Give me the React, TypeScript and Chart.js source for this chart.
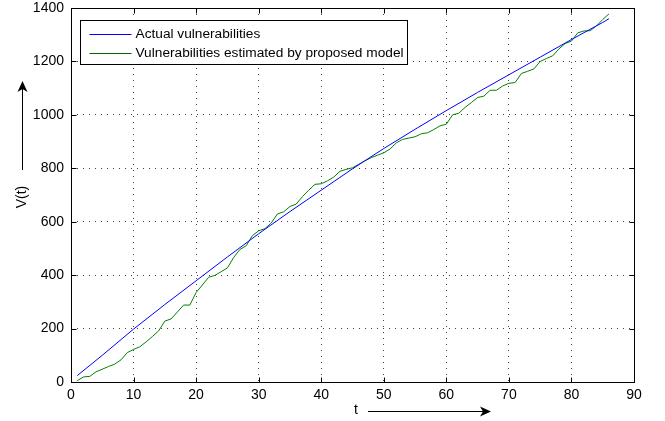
import React, { useEffect, useRef } from 'react';
import { Chart, registerables } from 'chart.js';

Chart.register(...registerables);

// ---- data ----
const tGreen = [
  1, 2, 3, 4, 5, 6, 7, 8, 9, 10, 11, 12, 13, 14, 15, 16, 17, 18, 19, 20,
  21, 22, 23, 24, 25, 26, 27, 28, 29, 30, 31, 32, 33, 34, 35, 36, 37, 38, 39, 40,
  41, 42, 43, 44, 45, 46, 47, 48, 49, 50, 51, 52, 53, 54, 55, 56, 57, 58, 59, 60,
  61, 62, 63, 64, 65, 66, 67, 68, 69, 70, 71, 72, 73, 74, 75, 76, 77, 78, 79, 80,
  81, 82, 83, 84, 85, 86,
];
const greenValues = [
  5, 19, 21, 38, 48, 58, 67, 83, 110, 122, 132, 150, 170, 191, 228, 236, 262, 288, 288, 335,
  363, 392, 399, 413, 427, 466, 496, 510, 548, 566, 574, 595, 629, 637, 657, 666, 694, 718, 740, 742,
  753, 767, 789, 796, 802, 815, 828, 840, 849, 858, 872, 895, 908, 913, 918, 929, 933, 945, 959, 965,
  1000, 1006, 1028, 1046, 1065, 1070, 1092, 1092, 1108, 1118, 1121, 1155, 1163, 1172, 1200, 1211, 1221, 1247, 1267, 1276,
  1307, 1314, 1315, 1333, 1357, 1378,
];
const tBlue = [1, 5, 10, 15, 20, 25, 30, 35, 40, 45, 50, 55, 60, 65, 70, 75, 80, 85, 86];
const blueValues = [24, 100, 198, 290, 379, 468, 555, 638, 718, 798, 874, 946, 1016, 1084, 1150, 1216, 1282, 1346, 1360];
const xTicks = [0, 10, 20, 30, 40, 50, 60, 70, 80, 90];
const yTicks = [0, 200, 400, 600, 800, 1000, 1200, 1400];
const seriesNames = ['Actual vulnerabilities', 'Vulnerabilities estimated by proposed model'];
const xTitle = 't';
const yTitle = 'V(t)';

const FONT = '"Liberation Sans", Arial, Helvetica, sans-serif';
const FS = 14;
const LEGEND_FS = 13.7;
const BLUE = '#0000ff';
const GREEN = '#008000';

function arrow(ctx: CanvasRenderingContext2D, x1: number, y1: number, x2: number, y2: number) {
  const ang = Math.atan2(y2 - y1, x2 - x1);
  const hl = 11;
  const hw = 5;
  ctx.save();
  ctx.strokeStyle = '#000';
  ctx.fillStyle = '#000';
  ctx.lineWidth = 1;
  ctx.beginPath();
  ctx.moveTo(x1, y1);
  ctx.lineTo(x2 - Math.cos(ang) * 4, y2 - Math.sin(ang) * 4);
  ctx.stroke();
  const bx = x2 - Math.cos(ang) * hl;
  const by = y2 - Math.sin(ang) * hl;
  const nx = -Math.sin(ang);
  const ny = Math.cos(ang);
  const mx = x2 - Math.cos(ang) * (hl - 3);
  const my = y2 - Math.sin(ang) * (hl - 3);
  ctx.beginPath();
  ctx.moveTo(x2, y2);
  ctx.lineTo(bx + nx * hw, by + ny * hw);
  ctx.lineTo(mx, my);
  ctx.lineTo(bx - nx * hw, by - ny * hw);
  ctx.closePath();
  ctx.fill();
  ctx.restore();
}

const decorPlugin = {
  id: 'decor',
  afterDraw(chart: any) {
    const ctx: CanvasRenderingContext2D = chart.ctx;
    const { left, right, top, bottom } = chart.chartArea;
    const xs = chart.scales.x;
    const ys = chart.scales.y;
    const L = Math.round(left) + 0.5;
    const R = Math.round(right) + 0.5;
    const T = Math.round(top) + 0.5;
    const B = Math.round(bottom) + 0.5;
    ctx.save();
    ctx.strokeStyle = '#000';
    ctx.lineWidth = 1;
    // inward ticks
    const tl = 5;
    ctx.beginPath();
    xTicks.forEach((v) => {
      const px = Math.round(xs.getPixelForValue(v)) + 0.5;
      ctx.moveTo(px, B);
      ctx.lineTo(px, B - tl);
      ctx.moveTo(px, T);
      ctx.lineTo(px, T + tl);
    });
    yTicks.forEach((v) => {
      const py = Math.round(ys.getPixelForValue(v)) + 0.5;
      ctx.moveTo(L, py);
      ctx.lineTo(L + tl, py);
      ctx.moveTo(R, py);
      ctx.lineTo(R - tl, py);
    });
    ctx.stroke();
    // frame
    ctx.strokeRect(L, T, R - L, B - T);

    // legend
    ctx.font = `${LEGEND_FS}px ${FONT}`;
    const lx = Math.round(L + 8) + 0.5;
    const ly = Math.round(T + 11) + 0.5;
    const textX = lx + 55;
    const w = Math.max(...seriesNames.map((s) => ctx.measureText(s).width));
    const bw = Math.round(textX - lx + w + 4);
    const bh = 44;
    ctx.fillStyle = '#fff';
    ctx.fillRect(lx, ly, bw, bh);
    ctx.strokeRect(lx, ly, bw, bh);
    const rows = [ly + 13, ly + 32.5];
    const cols = [BLUE, '#006400'];
    seriesNames.forEach((s, i) => {
      ctx.strokeStyle = cols[i];
      ctx.beginPath();
      ctx.moveTo(lx + 9, Math.round(rows[i]) + 0.5);
      ctx.lineTo(lx + 51, Math.round(rows[i]) + 0.5);
      ctx.stroke();
      ctx.fillStyle = '#000';
      ctx.textBaseline = 'middle';
      ctx.textAlign = 'left';
      ctx.fillText(s, textX, rows[i] + 0.5);
    });

    // axis titles
    ctx.font = `${FS}px ${FONT}`;
    ctx.fillStyle = '#000';
    ctx.textAlign = 'center';
    ctx.textBaseline = 'middle';
    ctx.fillText(xTitle, 356, 410);
    arrow(ctx, 368, 411.5, 491, 411.5);
    ctx.save();
    ctx.translate(22, 197);
    ctx.rotate(-Math.PI / 2);
    ctx.fillText(yTitle, 0, 0);
    ctx.restore();
    arrow(ctx, 22.5, 170, 22.5, 81);
    ctx.restore();
  },
};

export default function App() {
  const ref = useRef<HTMLCanvasElement | null>(null);
  useEffect(() => {
    if (!ref.current) return;
    const chart = new Chart(ref.current, {
      type: 'line',
      data: {
        datasets: [
          {
            label: seriesNames[0],
            data: tBlue.map((t, i) => ({ x: t, y: blueValues[i] })),
            borderColor: BLUE,
            borderWidth: 1,
            pointRadius: 0,
            tension: 0,
          },
          {
            label: seriesNames[1],
            data: tGreen.map((t, i) => ({ x: t, y: greenValues[i] })),
            borderColor: GREEN,
            borderWidth: 1,
            pointRadius: 0,
            tension: 0,
          },
        ],
      },
      options: {
        animation: false,
        responsive: false,
        maintainAspectRatio: false,
        layout: { padding: { left: 0, right: 31, top: 8, bottom: 0 } },
        plugins: { legend: { display: false }, tooltip: { enabled: false } },
        scales: {
          x: {
            type: 'linear',
            min: 0,
            max: 90,
            afterBuildTicks: (s: any) => {
              s.ticks = xTicks.map((v) => ({ value: v }));
            },
            afterFit: (s: any) => {
              s.height = 39;
            },
            grid: { color: 'rgba(0,0,0,0.75)', lineWidth: 1, drawTicks: false },
            border: { display: false, dash: [1, 5] },
            ticks: {
              color: '#000',
              padding: 5,
              maxRotation: 0,
              callback: (v: any) => String(v),
              font: { family: FONT, size: FS },
            },
          },
          y: {
            type: 'linear',
            min: 0,
            max: 1400,
            afterBuildTicks: (s: any) => {
              s.ticks = yTicks.map((v) => ({ value: v }));
            },
            afterFit: (s: any) => {
              s.width = 71;
              s.paddingTop = 0;
              s.paddingBottom = 0;
            },
            grid: { color: 'rgba(0,0,0,0.75)', lineWidth: 1, drawTicks: false },
            border: { display: false, dash: [1, 5] },
            ticks: {
              color: '#000',
              padding: 7,
              callback: (v: any) => String(v),
              font: { family: FONT, size: FS, lineHeight: 0.5 },
            },
          },
        },
      },
      plugins: [decorPlugin],
    } as any);
    return () => chart.destroy();
  }, []);
  return (
    <div style={{ position: 'absolute', left: 0, top: 0, width: 665, height: 421, background: '#fff' }}>
      <canvas ref={ref} width={665} height={421} style={{ width: 665, height: 421, display: 'block' }} />
    </div>
  );
}
